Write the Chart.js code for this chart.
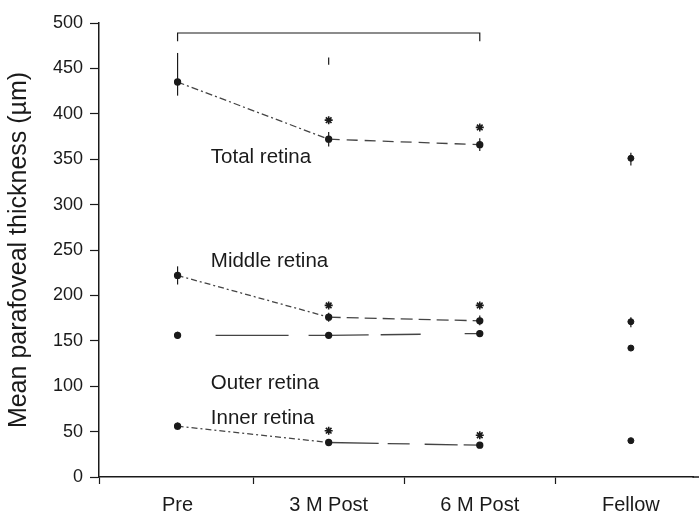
<!DOCTYPE html>
<html>
<head>
<meta charset="utf-8">
<script src="https://cdn.jsdelivr.net/npm/chart.js@4.4.1/dist/chart.umd.min.js"></script>
<style>
  html, body { margin: 0; padding: 0; background: #fff; }
  #wrap { width: 699px; height: 517px; position: relative; }
</style>
</head>
<body>
<div id="wrap"><canvas id="c" width="699" height="517"></canvas></div>
<script>
// ---- data ----
const categories = ['Pre', '3 M Post', '6 M Post', 'Fellow'];
const yTicks = [0, 50, 100, 150, 200, 250, 300, 350, 400, 450, 500];

const totalRetina  = [435, 372, 366, 351];
const totalHi      = [467, 380, 373, 357];
const totalLo      = [420, 364, 359, 343];

const middleRetina = [222, 176, 172, 171];
const middleHi     = [232, 181, 178, 176];
const middleLo     = [212, 171, 167, 165];

const outerRetina  = [156, 156, 158, 142];
const outerHi      = [160, 159, 161, 143];
const outerLo      = [152, 153, 155, 141];

const innerRetina  = [56, 38, 35, 40];
const innerHi      = [60, 41, 38, 41];
const innerLo      = [52, 35, 32, 39];

// significance asterisks: [category index, value]
const asterisks = [[1, 393], [2, 385], [1, 189], [2, 189], [1, 51], [2, 46]];
// bracket across Pre..6 M Post
const bracketValue = 489;
const bracketDrop = 480;
const extraMark = [1, 454, 462]; // short vertical mark above 3 M Post

const seriesLabels = [
  ['Total retina', 352],
  ['Middle retina', 237],
  ['Outer retina', 103],
  ['Inner retina', 65]
];

// ---- helpers ----
const pts = arr => arr.slice(0, 3).map((v, i) => ({ x: i + 1, y: v }));
const fellowPts = [totalRetina, middleRetina, outerRetina, innerRetina].map(a => ({ x: 4, y: a[3] }));

const INK = '#1a1a1a';
const LINE = '#444';
const FONT = '"Liberation Sans", Arial, sans-serif';

function segDash(first, second) {
  return { borderDash: ctx => ctx.p0DataIndex === 0 ? first : second };
}

const lineDs = (data, first, second) => ({
  type: 'line',
  data: pts(data),
  borderColor: LINE,
  borderWidth: 1.3,
  pointRadius: 3,
  pointBackgroundColor: INK,
  pointBorderColor: INK,
  segment: segDash(first, second),
  fill: false,
  tension: 0
});

const datasets = [
  lineDs(totalRetina, [7, 3, 2, 3], [11, 7]),
  lineDs(middleRetina, [6, 3, 2, 3], [12, 6]),
  lineDs(outerRetina, [0, 38, 73, 20, 100, 0], [40, 12, 40, 44, 30, 0]),
  lineDs(innerRetina, [6, 3, 2, 3], [50, 9, 22, 15, 33, 6, 30, 0]),
  {
    type: 'scatter',
    data: fellowPts,
    pointRadius: 3,
    pointBackgroundColor: INK,
    pointBorderColor: INK
  },
  {
    type: 'scatter',
    data: asterisks.map(a => ({ x: a[0] + 1, y: a[1] })),
    pointStyle: 'star',
    pointRadius: 4,
    borderWidth: 1.6,
    pointBorderColor: INK,
    pointBackgroundColor: INK
  }
];

const errorBars = {
  id: 'errorBars',
  afterDatasetsDraw(chart) {
    const { ctx, scales: { x, y }, chartArea } = chart;
    ctx.save();
    // x axis line continues to the right edge of the figure
    ctx.strokeStyle = INK;
    ctx.lineWidth = 1.5;
    ctx.beginPath();
    ctx.moveTo(chartArea.right - 1, chartArea.bottom);
    ctx.lineTo(chart.width, chartArea.bottom);
    ctx.stroke();

    ctx.lineWidth = 1.2;
    const groups = [[totalHi, totalLo], [middleHi, middleLo], [outerHi, outerLo], [innerHi, innerLo]];
    groups.forEach(([hi, lo]) => {
      hi.forEach((h, i) => {
        const px = x.getPixelForValue(i + 1);
        ctx.beginPath();
        ctx.moveTo(px, y.getPixelForValue(h));
        ctx.lineTo(px, y.getPixelForValue(lo[i]));
        ctx.stroke();
      });
    });
    // short mark above 3 M Post
    ctx.beginPath();
    const mx = x.getPixelForValue(extraMark[0] + 1);
    ctx.moveTo(mx, y.getPixelForValue(extraMark[1]));
    ctx.lineTo(mx, y.getPixelForValue(extraMark[2]));
    ctx.stroke();
    // bracket
    const bx0 = x.getPixelForValue(1), bx1 = x.getPixelForValue(3);
    const by = y.getPixelForValue(bracketValue), bd = y.getPixelForValue(bracketDrop);
    ctx.beginPath();
    ctx.moveTo(bx0, bd); ctx.lineTo(bx0, by); ctx.lineTo(bx1, by); ctx.lineTo(bx1, bd);
    ctx.stroke();
    // series labels
    ctx.fillStyle = INK;
    ctx.font = '20.5px ' + FONT;
    ctx.textBaseline = 'middle';
    ctx.textAlign = 'left';
    seriesLabels.forEach(([t, v]) => {
      ctx.fillText(t, x.getPixelForValue(1.22), y.getPixelForValue(v));
    });
    ctx.restore();
  }
};

const X_MIN = 0.48;
new Chart(document.getElementById('c'), {
  data: { datasets },
  plugins: [errorBars],
  options: {
    responsive: false,
    animation: false,
    events: [],
    layout: { padding: { top: 23, right: 0, bottom: 0, left: 0 } },
    plugins: { legend: { display: false }, tooltip: { enabled: false } },
    scales: {
      x: {
        type: 'linear',
        min: X_MIN,
        max: X_MIN + 594 / 151,
        afterBuildTicks: s => { s.ticks = [X_MIN, 1, 1.5, 2, 2.5, 3, 3.5, 4].map(v => ({ value: v })); },
        afterFit: s => { s.height = 40; s.paddingLeft = 0; s.paddingRight = 0; },
        grid: {
          drawOnChartArea: false,
          tickLength: 7,
          tickColor: c => Number.isInteger(c.tick && c.tick.value) ? 'rgba(0,0,0,0)' : INK,
          tickWidth: 1.2
        },
        border: { color: INK, width: 1.5 },
        ticks: {
          autoSkip: false,
          maxRotation: 0,
          color: INK,
          padding: 9,
          font: { family: FONT, size: 20 },
          callback: v => Number.isInteger(v) ? categories[v - 1] : ''
        }
      },
      y: {
        type: 'linear',
        min: 0,
        max: 500,
        afterBuildTicks: s => { s.ticks = yTicks.map(v => ({ value: v })); },
        afterFit: s => { s.width = 99; },
        grid: { drawOnChartArea: false, tickLength: 9, tickColor: INK, tickWidth: 1.2 },
        border: { color: INK, width: 1.5 },
        ticks: {
          color: INK,
          padding: 7,
          font: { family: FONT, size: 18 }
        },
        title: {
          display: true,
          text: 'Mean parafoveal thickness (µm)',
          color: INK,
          padding: { top: 4, bottom: 0 },
          font: { family: FONT, size: 25 }
        }
      }
    }
  }
});
</script>
</body>
</html>
